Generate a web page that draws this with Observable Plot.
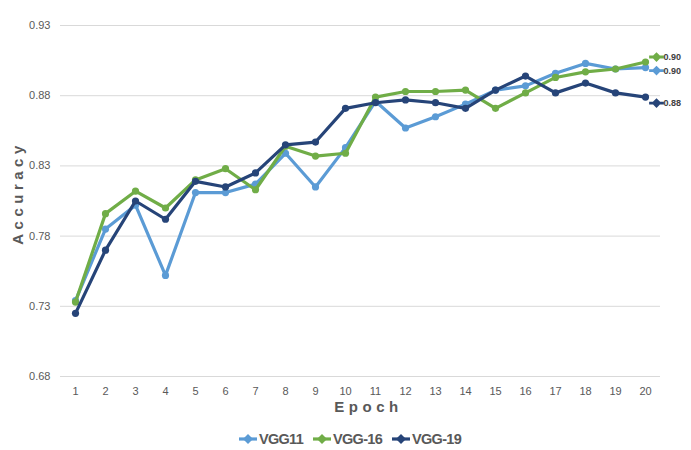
<!DOCTYPE html>
<html>
<head>
<meta charset="utf-8">
<script src="https://cdn.jsdelivr.net/npm/d3@7"></script>
<script src="https://cdn.jsdelivr.net/npm/@observablehq/plot@0.6"></script>
<style>
  html, body { margin: 0; padding: 0; background: #ffffff; }
  #chart { width: 691px; }
  .legend { display: flex; justify-content: center; align-items: center; gap: 9px;
    font-family: "Liberation Sans", Arial, sans-serif;
    font-size: 14.5px; font-weight: bold; color: #595959; height: 24px; margin-top: 5px; padding-left: 8px; letter-spacing: -0.7px; }
  .legend span.item { display: inline-flex; align-items: center; gap: 1px; }
</style>
</head>
<body>
<div id="chart"></div>
<script>
const epochs = [1,2,3,4,5,6,7,8,9,10,11,12,13,14,15,16,17,18,19,20];
const seriesNames = ["VGG11", "VGG-16", "VGG-19"];
const seriesColors = ["#5B9BD5", "#70AD47", "#264478"];
const vgg11 = [0.734,0.785,0.802,0.752,0.811,0.811,0.817,0.839,0.815,0.843,0.876,0.857,0.865,0.874,0.884,0.887,0.896,0.903,0.899,0.900];
const vgg16 = [0.733,0.796,0.812,0.800,0.820,0.828,0.813,0.844,0.837,0.839,0.879,0.883,0.883,0.884,0.871,0.882,0.893,0.897,0.899,0.904];
const vgg19 = [0.725,0.770,0.805,0.792,0.819,0.815,0.825,0.845,0.847,0.871,0.875,0.877,0.875,0.871,0.884,0.894,0.882,0.889,0.882,0.879];
const yTicks = [0.68, 0.73, 0.78, 0.83, 0.88, 0.93];

const seriesValues = [vgg11, vgg16, vgg19];
const rows = seriesNames.flatMap((s, i) => epochs.map((e, j) => ({series: s, epoch: e, acc: seriesValues[i][j]})));
const lastRows = seriesNames.map((s, i) => ({series: s, epoch: epochs[epochs.length - 1], acc: seriesValues[i][epochs.length - 1]}));
const labelDy = {"VGG11": 3, "VGG-16": -5, "VGG-19": 6};

const font = '"Liberation Sans", Arial, sans-serif';

// diamond-with-arms legend key symbol
const keySymbol = {
  draw(ctx, size) {
    const r = Math.sqrt(size) / 1.6;
    ctx.moveTo(0, -r); ctx.lineTo(r, 0); ctx.lineTo(0, r); ctx.lineTo(-r, 0); ctx.closePath();
    ctx.moveTo(-r - 2.5, -1.4); ctx.lineTo(r + 2.5, -1.4); ctx.lineTo(r + 2.5, 1.4); ctx.lineTo(-r - 2.5, 1.4); ctx.closePath();
  }
};

const marks = [
  Plot.ruleY(yTicks, {stroke: "#D9D9D9", strokeWidth: 1})
];
seriesNames.forEach((s) => {
  const data = rows.filter(d => d.series === s);
  marks.push(Plot.line(data, {x: "epoch", y: "acc", stroke: "series", strokeWidth: 3.2, strokeLinejoin: "round"}));
  marks.push(Plot.dot(data, {x: "epoch", y: "acc", fill: "series", r: 3.6, stroke: "none"}));
});
seriesNames.forEach((s) => {
  const d = lastRows.filter(r => r.series === s);
  marks.push(Plot.dot(d, {x: "epoch", y: "acc", fill: "series", symbol: keySymbol, r: 4.4, dx: 11, dy: labelDy[s]}));
  marks.push(Plot.text(d, {x: "epoch", y: "acc", text: r => d3.format(".2f")(r.acc), dx: 18, dy: labelDy[s], textAnchor: "start", fill: "#404040", fontSize: 9, fontWeight: "bold"}));
});
marks.push(Plot.text(["Epoch"], {frameAnchor: "bottom", dy: 35, dx: 8, text: d => d, textAnchor: "middle", fontSize: 15, fontWeight: "bold", fill: "#595959"}));
marks.push(Plot.text(["Accuracy"], {frameAnchor: "left", dx: -42, dy: -8, rotate: -90, text: d => d, textAnchor: "middle", fontSize: 15, fontWeight: "bold", fill: "#595959"}));

const chart = Plot.plot({
  width: 691,
  height: 422,
  marginLeft: 60,
  marginRight: 31,
  marginTop: 25,
  marginBottom: 46,
  style: {fontFamily: font, fontSize: "11px", color: "#595959", background: "#ffffff", overflow: "visible"},
  x: {type: "point", domain: epochs, padding: 0.5, tickSize: 0, tickPadding: 11, label: null},
  y: {domain: [0.68, 0.93], ticks: yTicks, tickFormat: ".2f", tickSize: 0, tickPadding: 10, label: null},
  color: {domain: seriesNames, range: seriesColors},
  marks
});

d3.select(chart).selectAll("text").filter(function() {
  return this.textContent === "Epoch" || this.textContent === "Accuracy";
}).attr("letter-spacing", "4.5px").style("letter-spacing", "4.5px");

const container = document.getElementById("chart");
container.appendChild(chart);

const legend = document.createElement("div");
legend.className = "legend";
seriesNames.forEach((s, i) => {
  const item = document.createElement("span");
  item.className = "item";
  item.innerHTML = `<svg width="20" height="12"><line x1="1" y1="6" x2="19" y2="6" stroke="${seriesColors[i]}" stroke-width="3.2"/><path d="M10 1 L15 6 L10 11 L5 6 Z" fill="${seriesColors[i]}"/></svg><span>${s}</span>`;
  legend.appendChild(item);
});
container.appendChild(legend);
</script>
</body>
</html>
